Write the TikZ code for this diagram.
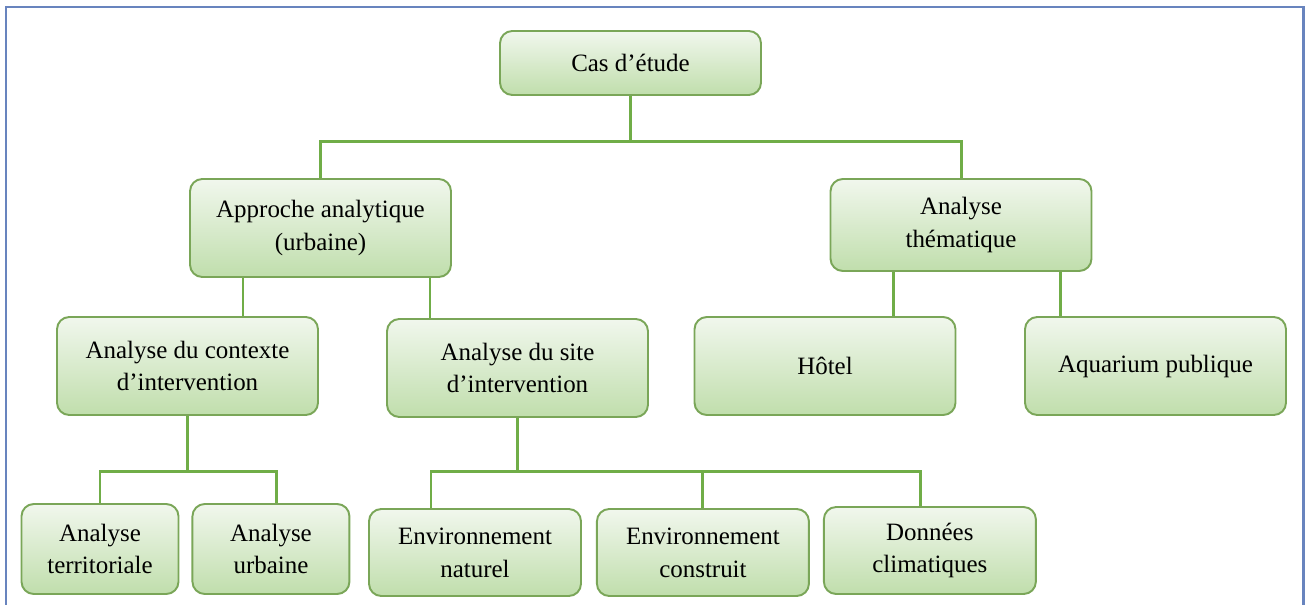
\documentclass[tikz,border=0pt]{standalone}
\usepackage{fontspec}
\setmainfont{Liberation Serif}
\usepackage{tikz}
\usetikzlibrary{positioning}
\definecolor{boxline}{RGB}{122, 166, 88}
\definecolor{boxtop}{RGB}{241, 247, 237}
\definecolor{boxbot}{RGB}{192, 222, 172}
\definecolor{linkgreen}{RGB}{112, 173, 71}
\definecolor{frameblue}{RGB}{104, 132, 190}
\tikzset{
    gbox/.style={rectangle, rounded corners=7pt, draw=boxline, line width=1.1pt, top color=boxtop, bottom color=boxbot, align=center, inner sep=0pt, font=\fontsize{14.2}{18.7}\selectfont},
    big box/.style={gbox, minimum width=5.22cm, minimum height=1.96cm},
    top box/.style={gbox, minimum width=5.22cm, minimum height=1.28cm},
    small box/.style={gbox, minimum width=3.14cm, minimum height=1.8cm},
    env box/.style={gbox, minimum width=4.24cm, minimum height=1.74cm},
    link/.style={draw=linkgreen, line width=1.7pt},
}

\begin{document}
\begin{tikzpicture}
\useasboundingbox (0,0) rectangle (26.12,-12.1);
\draw[frameblue, line width=1.7pt] (0.12,-12.4) |- (26.06,-0.14) -- (26.06,-12.4);

\node[top box] (cas) at (12.61,-1.26) {Cas d’étude};
\node[big box] (approche) at (6.41,-4.56) {Approche analytique\\(urbaine)};
\node[big box, minimum height=1.84cm] (thema) at (19.22,-4.5) {Analyse\\thématique};
\node[big box] (contexte) at (3.75,-7.32) {Analyse du contexte\\d’intervention};
\node[big box] (site) at (10.35,-7.36) {Analyse du site\\d’intervention};
\node[big box] (hotel) at (16.5,-7.32) {Hôtel};
\node[big box] (aqua) at (23.11,-7.32) {Aquarium publique};
\node[small box] (terr) at (2.0,-10.98) {Analyse\\territoriale};
\node[small box, right=0.24cm of terr] (urb) {Analyse\\urbaine};
\node[env box] (envnat) at (9.5,-11.05) {Environnement\\naturel};
\node[env box, right=0.28cm of envnat] (envcons) {Environnement\\construit};
\node[env box, right=0.26cm of envcons, yshift=0.04cm] (climat) {Données\\climatiques};

% niveau 1
\draw[link] (cas.south) -- ++(0,-0.92) coordinate (bar1);
\draw[link] (approche.north) |- (bar1);
\draw[link] (thema.north) |- (bar1);

% niveau 2
\coordinate (a1) at ([xshift=-1.55cm]approche.south);
\coordinate (a2) at ([xshift=2.19cm]approche.south);
\coordinate (t1) at ([xshift=-1.36cm]thema.south);
\coordinate (t2) at ([xshift=1.98cm]thema.south);
\draw[link] (a1) -- (a1 |- contexte.north);
\draw[link] (a2) -- (a2 |- site.north);
\draw[link] (t1) -- (t1 |- hotel.north);
\draw[link] (t2) -- (t2 |- aqua.north);

% niveau 3
\draw[link] (contexte.south) -- ++(0,-1.12) coordinate (bar2);
\draw[link] (terr.north) |- (bar2);
\draw[link] ([xshift=0.12cm]urb.north) |- (bar2);
\draw[link] (site.south) -- ++(0,-1.08) coordinate (bar3);
\draw[link] ([xshift=-0.88cm]envnat.north) |- (bar3);
\draw[link] (envcons.north) |- (bar3);
\draw[link] ([xshift=-0.18cm]climat.north) |- (bar3);
\end{tikzpicture}
\end{document}
